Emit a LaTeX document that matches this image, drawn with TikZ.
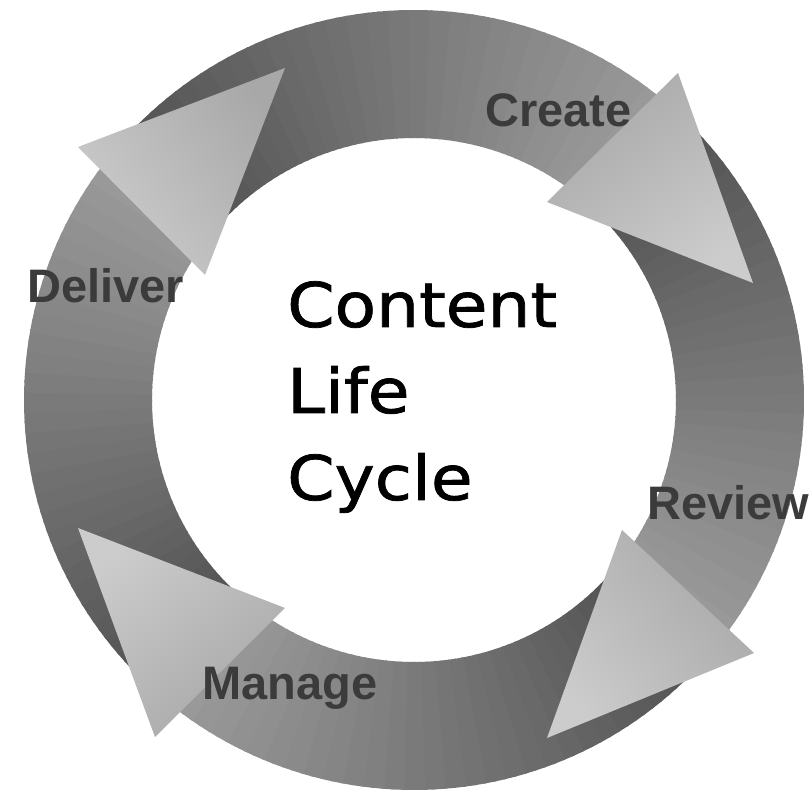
\documentclass[tikz,border=0pt]{standalone}
\usepackage{fontspec}
\newfontfamily\lblfont{Liberation Sans}
\newfontfamily\ctrfont[FakeStretch=1.1,FakeBold=1.2]{DejaVu Sans}
\newcommand\myshaft[2]{%
  \foreach \k in {0,...,59}{%
    \pgfmathsetmacro\aA{#1+(#2-(#1))*\k/60}%
    \pgfmathsetmacro\aB{#1+(#2-(#1))*(\k+1)/60+0.4*sign(#2-(#1))}%
    \pgfmathtruncatemacro\pc{70-30*\k/59}%
    \fill[black!\pc] (\aA:390pt) arc[start angle=\aA, end angle=\aB, radius=390pt]
      -- (\aB:262pt) arc[start angle=\aB, end angle=\aA, radius=262pt] -- cycle;
  }}
\tikzset{
  lbl/.style={inner sep=0pt, anchor=base west, text=black!77,
    font=\lblfont\bfseries\fontsize{47}{56}\selectfont},
  ctr/.style={inner sep=0pt, anchor=base west, text=black,
    font=\ctrfont\fontsize{61.7}{80}\selectfont},
  headfill/.style={top color=black!20, bottom color=black!34, shading angle=#1}
}
\begin{document}
\begin{tikzpicture}[x=1pt,y=1pt]
\fill[white] (0,0) rectangle (812,795);
\useasboundingbox (0,0) rectangle (812,795);
% shafts
\begin{scope}[shift={(414,395)}]
  \myshaft{143.5}{50.5}
  \myshaft{51}{-37.4}
  \myshaft{-36.9}{-127.7}
  \myshaft{-127.2}{-217}
\end{scope}
% heads
\shade[headfill=-144] (678,722) -- (753,512) -- (547,593) -- cycle;
\shade[headfill=126] (78,648) -- (285,727) -- (205,520) -- cycle;
\shade[headfill=-231] (622,265) -- (547,57) -- (754,142) -- cycle;
\shade[headfill=-321] (285,187) -- (78,267) -- (155,58) -- cycle;
% labels
\node[lbl] (create) at (485,668) {Create};
\node[lbl] (review) at (647,275) {Review};
\node[lbl] (manage) at (202,95) {Manage};
\node[lbl] (deliver) at (27,492) {Deliver};
% centre text
\node[ctr] (c1) at (287,468) {Content};
\node[ctr] (c2) at (287,382) {Life};
\node[ctr] (c3) at (287,295) {Cycle};
\end{tikzpicture}
\end{document}
